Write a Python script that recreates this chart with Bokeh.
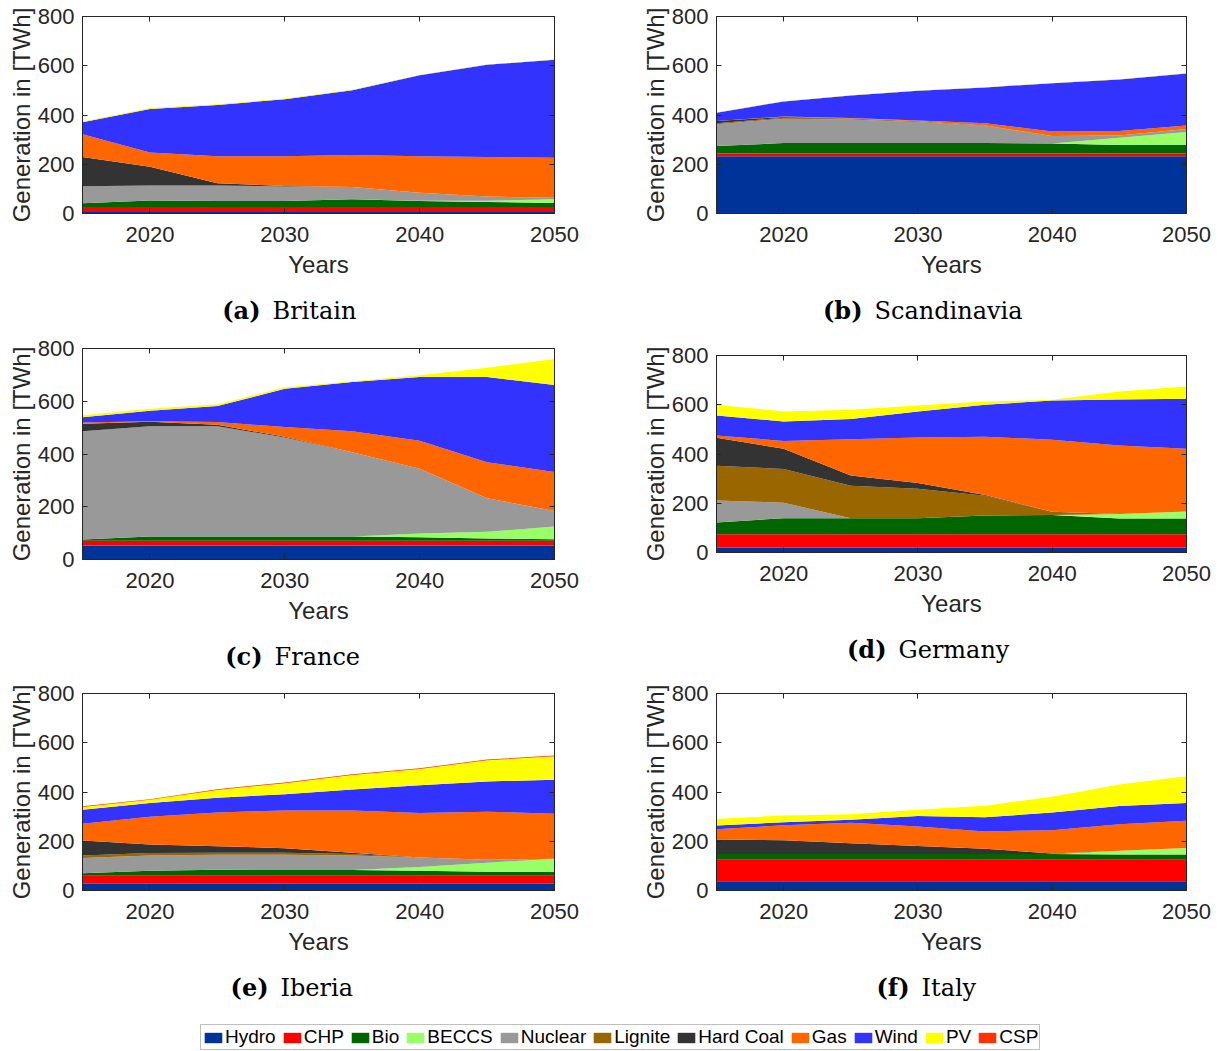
from bokeh.plotting import figure
from bokeh.models import (Range1d, LinearAxis, FixedTicker, Legend, LegendItem,
                          ColumnDataSource, CustomJSTickFormatter)
from bokeh.core.properties import value
from bokeh.layouts import column, row
from bokeh.embed import file_html
from bokeh.resources import INLINE

years = [2015, 2020, 2025, 2030, 2035, 2040, 2045, 2050]
technologies = ["Hydro", "CHP", "Bio", "BECCS", "Nuclear", "Lignite", "Hard Coal",
                "Gas", "Wind", "PV", "CSP"]
tech_colors = ["#003399", "#FF0000", "#006600", "#99FF66", "#999999", "#996600",
               "#333333", "#FF6600", "#3333FF", "#FFFF00", "#FF3300"]
x_ticks = [2020, 2030, 2040, 2050]
y_ticks = [0, 200, 400, 600, 800]
caption_letters = ["(a)", "(b)", "(c)", "(d)", "(e)", "(f)"]
caption_names = ["Britain", "Scandinavia", "France", "Germany", "Iberia", "Italy"]

# (a) Britain
britain_hydro   = [6, 6, 6, 6, 6, 6, 6, 6]
britain_chp     = [20, 20, 20, 20, 20, 20, 20, 20]
britain_bio     = [16, 27, 25, 25, 32, 25, 21, 17]
britain_beccs   = [0, 0, 0, 0, 0, 1, 5, 15]
britain_nuclear = [69, 61, 63, 59, 50, 32, 17, 6]
britain_lignite = [0, 0, 0, 0, 0, 0, 0, 0]
britain_coal    = [118, 76, 9, 2, 0, 0, 0, 0]
britain_gas     = [93, 58, 109, 120, 130, 148, 160, 162]
britain_wind    = [49, 176, 209, 232, 263, 329, 375, 398]
britain_pv      = [3, 4, 3, 3, 2, 1, 1, 1]
britain_csp     = [0, 0, 0, 0, 0, 0, 0, 0]

# (b) Scandinavia
scand_hydro   = [232, 232, 232, 232, 232, 232, 232, 232]
scand_chp     = [12, 12, 12, 12, 12, 12, 12, 12]
scand_bio     = [30, 42, 42, 42, 42, 40, 34, 34]
scand_beccs   = [0, 0, 0, 0, 0, 0, 30, 53]
scand_nuclear = [88, 99, 96, 86, 69, 31, 9, 12]
scand_lignite = [5, 4, 3, 3, 2, 0, 0, 0]
scand_coal    = [9, 3, 1, 0, 0, 0, 0, 0]
scand_gas     = [0, 2, 2, 3, 10, 18, 18, 14]
scand_wind    = [33, 61, 91, 120, 145, 196, 209, 212]
scand_pv      = [1, 1, 1, 1, 1, 1, 1, 1]
scand_csp     = [0, 0, 0, 0, 0, 0, 0, 0]

# (c) France
france_hydro   = [53, 53, 53, 53, 53, 53, 53, 53]
france_chp     = [18, 18, 18, 18, 18, 18, 18, 18]
france_bio     = [5, 16, 16, 16, 16, 13, 9, 6]
france_beccs   = [0, 0, 0, 0, 0, 15, 25, 48]
france_nuclear = [410, 418, 418, 376, 320, 245, 127, 59]
france_lignite = [0, 0, 0, 0, 0, 0, 0, 0]
france_coal    = [29, 17, 6, 2, 0, 0, 0, 0]
france_gas     = [4, 2, 10, 37, 79, 106, 137, 148]
france_wind    = [20, 40, 61, 145, 187, 242, 323, 330]
france_pv      = [8, 8, 7, 6, 3, 7, 35, 98]
france_csp     = [0, 0, 0, 0, 0, 0, 0, 0]

# (d) Germany
germany_hydro   = [20, 20, 20, 20, 20, 20, 20, 20]
germany_chp     = [54, 54, 54, 54, 54, 54, 54, 54]
germany_bio     = [48, 65, 65, 65, 76, 78, 64, 64]
germany_beccs   = [0, 0, 0, 0, 0, 0, 18, 29]
germany_nuclear = [89, 63, 0, 0, 0, 0, 0, 0]
germany_lignite = [141, 137, 132, 120, 80, 13, 0, 0]
germany_coal    = [114, 82, 42, 23, 4, 0, 0, 0]
germany_gas     = [9, 32, 147, 185, 236, 293, 279, 254]
germany_wind    = [81, 79, 82, 106, 130, 159, 186, 203]
germany_pv      = [44, 41, 38, 24, 13, 3, 33, 50]
germany_csp     = [0, 0, 0, 0, 0, 0, 0, 0]

# (e) Iberia
iberia_hydro   = [27, 27, 27, 27, 27, 27, 27, 27]
iberia_chp     = [33, 33, 33, 33, 33, 33, 33, 33]
iberia_bio     = [10, 20, 24, 23, 23, 20, 16, 16]
iberia_beccs   = [0, 0, 0, 0, 0, 15, 37, 53]
iberia_nuclear = [62, 62, 61, 62, 59, 39, 12, 0]
iberia_lignite = [10, 10, 8, 8, 6, 0, 0, 0]
iberia_coal    = [61, 35, 27, 19, 5, 0, 0, 0]
iberia_gas     = [68, 113, 137, 153, 172, 181, 195, 183]
iberia_wind    = [57, 55, 60, 66, 85, 112, 123, 138]
iberia_pv      = [11, 14, 31, 45, 59, 66, 86, 95]
iberia_csp     = [3, 2, 3, 3, 3, 3, 3, 3]

# (f) Italy
italy_hydro   = [38, 38, 38, 38, 38, 38, 38, 38]
italy_chp     = [87, 87, 87, 87, 87, 87, 87, 87]
italy_bio     = [23, 23, 23, 23, 23, 23, 21, 21]
italy_beccs   = [0, 0, 0, 0, 0, 0, 15, 27]
italy_nuclear = [0, 0, 0, 0, 0, 0, 0, 0]
italy_lignite = [0, 0, 0, 0, 0, 0, 0, 0]
italy_coal    = [59, 56, 44, 33, 22, 2, 0, 0]
italy_gas     = [42, 61, 83, 79, 70, 95, 108, 110]
italy_wind    = [15, 12, 12, 43, 57, 72, 74, 72]
italy_pv      = [26, 28, 23, 25, 47, 64, 87, 109]
italy_csp     = [0, 0, 0, 0, 0, 0, 0, 0]


def region(*series):
    return dict(zip(technologies, series))


britain = region(britain_hydro, britain_chp, britain_bio, britain_beccs, britain_nuclear,
                 britain_lignite, britain_coal, britain_gas, britain_wind, britain_pv, britain_csp)
scandinavia = region(scand_hydro, scand_chp, scand_bio, scand_beccs, scand_nuclear,
                     scand_lignite, scand_coal, scand_gas, scand_wind, scand_pv, scand_csp)
france = region(france_hydro, france_chp, france_bio, france_beccs, france_nuclear,
                france_lignite, france_coal, france_gas, france_wind, france_pv, france_csp)
germany = region(germany_hydro, germany_chp, germany_bio, germany_beccs, germany_nuclear,
                 germany_lignite, germany_coal, germany_gas, germany_wind, germany_pv, germany_csp)
iberia = region(iberia_hydro, iberia_chp, iberia_bio, iberia_beccs, iberia_nuclear,
                iberia_lignite, iberia_coal, iberia_gas, iberia_wind, iberia_pv, iberia_csp)
italy = region(italy_hydro, italy_chp, italy_bio, italy_beccs, italy_nuclear,
               italy_lignite, italy_coal, italy_gas, italy_wind, italy_pv, italy_csp)

AX = "#262626"
SANS = "Liberation Sans"
SERIF = "DejaVu Serif"
TOTAL_W = 1216


def make_panel(data, left_col, fh, btop, bbottom):
    if left_col:
        fw, bl, br = 472, 82, 48
    else:
        fw, bl, br = 470, 114, 30
    p = figure(frame_width=fw, frame_height=fh, min_border_left=bl, min_border_right=br,
               min_border_top=btop, min_border_bottom=bbottom,
               x_range=Range1d(2015, 2050), y_range=Range1d(0, 800),
               output_backend="svg", toolbar_location=None,
               x_axis_label="Years", y_axis_label="Generation in [TWh]",
               background_fill_color="white", border_fill_color="white")
    src = ColumnDataSource(dict(year=years, **data))
    p.varea_stack(stackers=technologies, x="year", fill_color=tech_colors, source=src)
    p.xgrid.visible = False
    p.ygrid.visible = False
    p.outline_line_color = AX
    p.outline_line_width = 1
    p.xaxis.ticker = FixedTicker(ticks=x_ticks)
    p.yaxis.ticker = FixedTicker(ticks=y_ticks)
    for ax in (p.xaxis[0], p.yaxis[0]):
        ax.major_tick_in = 5
        ax.major_tick_out = 0
        ax.minor_tick_line_color = None
        ax.axis_line_color = AX
        ax.major_tick_line_color = AX
        ax.major_label_text_font = SANS
        ax.major_label_text_font_size = "22px"
        ax.major_label_text_color = AX
        ax.axis_label_text_font = SANS
        ax.axis_label_text_font_size = "24px"
        ax.axis_label_text_font_style = "normal"
        ax.axis_label_text_color = AX
    p.yaxis.major_label_standoff = 8
    p.yaxis.axis_label_standoff = 0
    p.xaxis.major_label_standoff = 13
    p.xaxis.axis_label_standoff = 6
    for loc, ticks in (("above", x_ticks), ("right", y_ticks)):
        ax = LinearAxis(ticker=FixedTicker(ticks=ticks),
                        formatter=CustomJSTickFormatter(code="return ''"),
                        major_label_text_font_size="0px", major_label_standoff=0,
                        major_tick_in=5, major_tick_out=0, minor_tick_line_color=None,
                        axis_line_color=AX, major_tick_line_color=AX)
        p.add_layout(ax, loc)
    return p


def caption_strip(height, idx_left, idx_right, gaps_x, ys):
    s = figure(width=TOTAL_W, height=height, x_range=Range1d(0, TOTAL_W),
               y_range=Range1d(height, 0), output_backend="svg", toolbar_location=None,
               min_border=0, outline_line_color=None,
               background_fill_color="white", border_fill_color="white")
    s.axis.visible = False
    s.xgrid.visible = False
    s.ygrid.visible = False
    idx = [idx_left, idx_right]
    s.text(x=[g - 6 for g in gaps_x], y=ys, text=[caption_letters[i] for i in idx],
           text_align="right", text_baseline="middle", text_font=value(SERIF),
           text_font_size="24px", text_font_style="bold", text_color="black")
    s.text(x=[g + 6 for g in gaps_x], y=ys, text=[caption_names[i] for i in idx],
           text_align="left", text_baseline="middle", text_font=value(SERIF),
           text_font_size="24px", text_color="black")
    return s


pa = make_panel(britain, True, 197, 16, 77)
pb = make_panel(scandinavia, False, 197, 16, 77)
cap1 = caption_strip(45, 0, 1, [266, 868], [20, 20])

pc = make_panel(france, True, 211, 13, 73)
pd = make_panel(germany, False, 197, 20, 80)
cap2 = caption_strip(43, 2, 3, [268, 892], [24, 17])

pe = make_panel(iberia, True, 197, 18, 75)
pf = make_panel(italy, False, 197, 18, 75)
cap3 = caption_strip(48, 4, 5, [274, 915], [22, 22])

# legend strip
lg = figure(width=TOTAL_W, height=38, x_range=Range1d(0, 1), y_range=Range1d(0, 1),
            output_backend="svg", toolbar_location=None, min_border=0,
            outline_line_color=None, background_fill_color="white", border_fill_color="white")
lg.axis.visible = False
lg.xgrid.visible = False
lg.ygrid.visible = False
items = []
for t, c in zip(technologies, tech_colors):
    r = lg.varea(x=[0, 0], y1=[0, 0], y2=[0, 0], fill_color=c)
    items.append(LegendItem(label=t, renderers=[r]))
legend = Legend(items=items, orientation="horizontal", location=(200, 1),
                label_text_font=SANS, label_text_font_size="19px", label_text_color="black",
                glyph_width=22, glyph_height=13, label_standoff=1, spacing=5, padding=1,
                margin=0, border_line_color="#808080", border_line_width=1,
                background_fill_color="white", label_height=16)
lg.add_layout(legend)

layout = column(row(pa, pb), cap1, row(column(pc), column(pd)), cap2, row(pe, pf), cap3, lg)
open("out.html", "w").write(file_html(layout, INLINE))
